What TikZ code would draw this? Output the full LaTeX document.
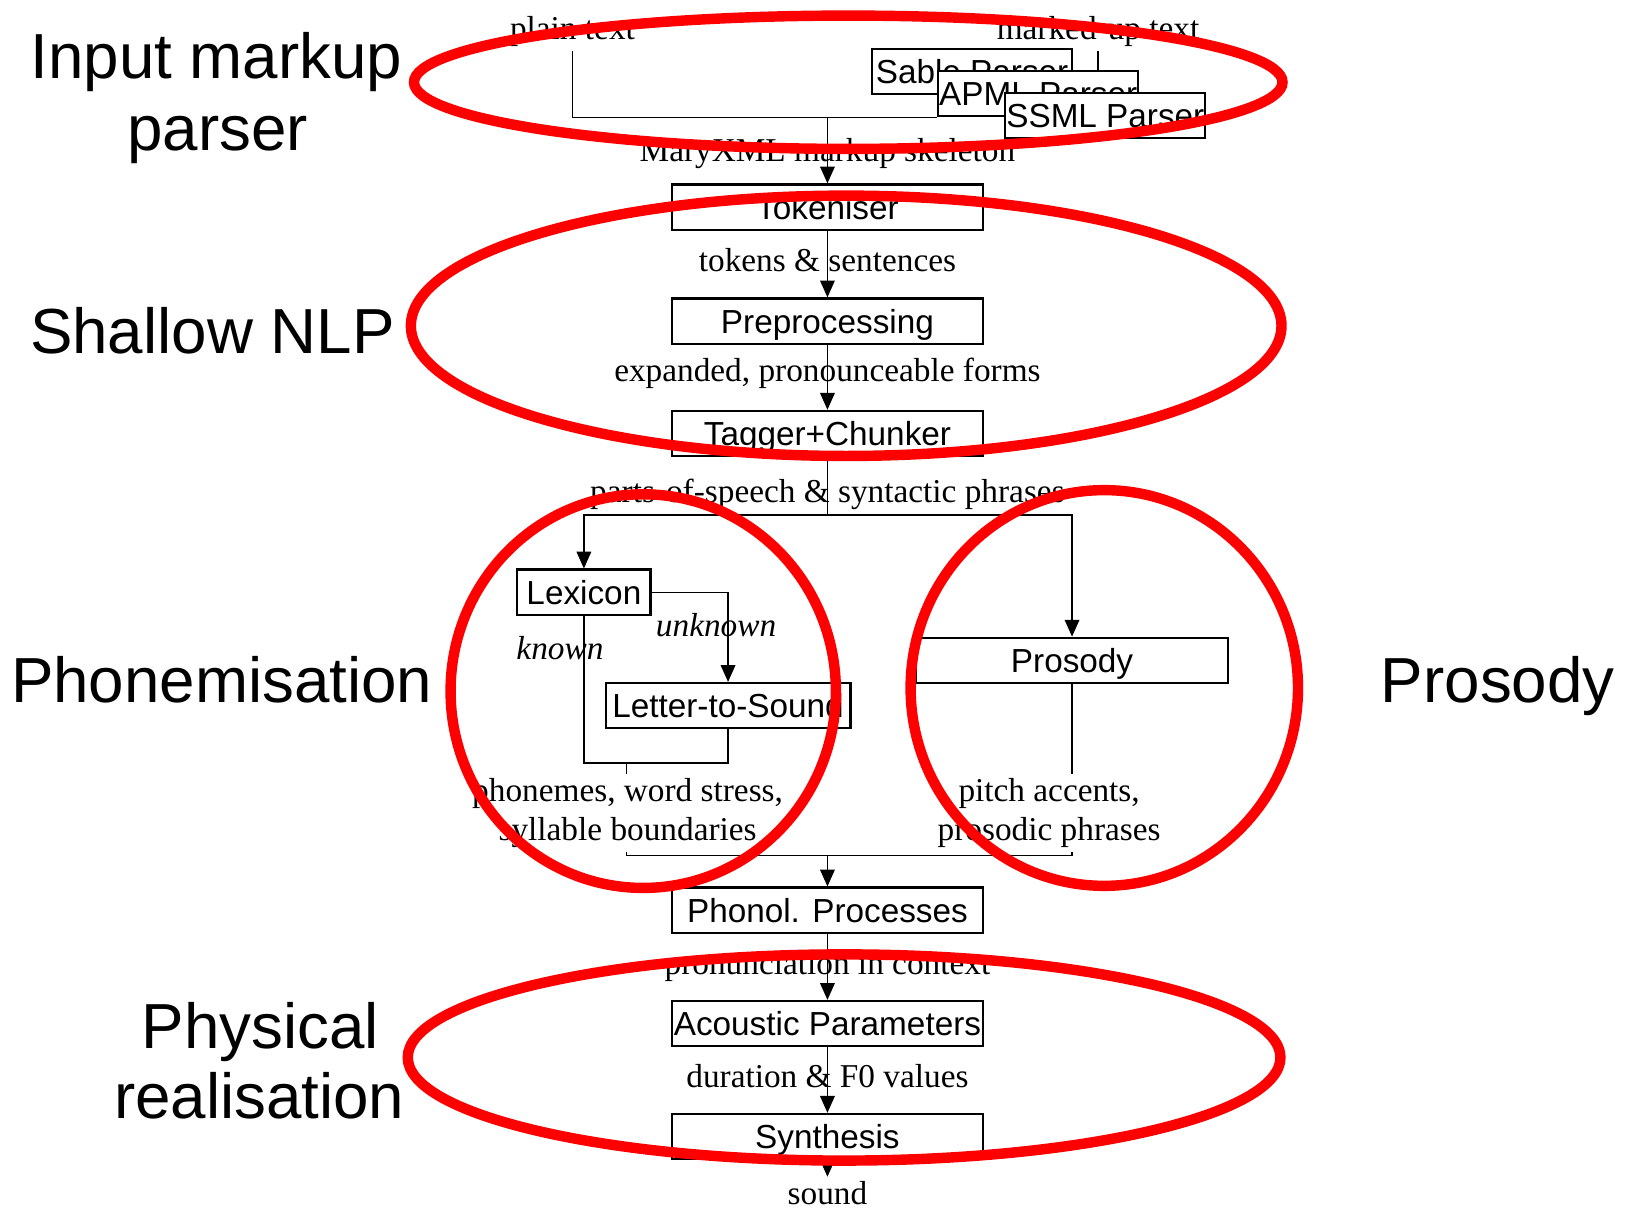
\documentclass[tikz,border=0pt]{standalone}
\usepackage{fontspec}
\setmainfont{Liberation Serif}
\setsansfont{Liberation Sans}
\usetikzlibrary{arrows.meta}
\newcommand\boxfont{\sffamily\fontsize{9.1}{11}\selectfont}
\newcommand\labfont{\rmfamily\fontsize{9.1}{10.5}\selectfont}
\newcommand\bigfont{\sffamily\fontsize{17.4}{20}\selectfont}
\tikzset{
  proc/.style={draw, fill=white, line width=0.6pt, inner sep=0pt, minimum width=2.98cm, minimum height=0.435cm,
    text height=0.23cm, text depth=0pt, font=\boxfont},
  parser/.style={proc, minimum width=1.92cm},
  lab/.style={inner sep=1pt, font=\labfont, align=center},
  big/.style={inner sep=0pt, font=\bigfont, anchor=base},
  ring/.style={draw=red, line width=0.1cm},
}
\begin{document}
\begin{tikzpicture}[x=0.01cm, y=-0.01cm, >={Triangle[length=4.6pt,width=4pt]}, line width=0.4pt]
  \useasboundingbox (0,0) rectangle (1568,1160);
  \node[lab, anchor=base] (plain) at (550,38) {plain text};
  \node[lab, anchor=base] (mkd) at (1055,38) {marked-up text};
  \node[parser] (sable) at (934,68.5) {Sable Parser};
  \node[parser] (apml) at (997.5,90) {APML Parser};
  \node[parser] (ssml) at (1062,111) {SSML Parser};
  \draw (plain) |- (apml.south west);
  \draw (mkd) -- (mkd |- apml.north);
  \coordinate (mx) at (795,112);
  \node[lab, anchor=base] (skel) at (795,155) {MaryXML markup skeleton};
  \foreach \nm/\yy/\txt in {tok/199/Tokeniser, pre/308.5/Preprocessing, tag/416.5/Tagger+Chunker,
      php/874.5/Phonol. Processes, acp/983.5/Acoustic Parameters, syn/1092/Synthesis}
    \node[proc] (\nm) at (795,\yy) {\txt};
  \node[lab, anchor=base] (tks) at (795,261) {tokens \& sentences};
  \node[lab, anchor=base] (exp) at (795,367) {expanded, pronounceable forms};
  \node[lab, anchor=base] (pos) at (795,483) {parts-of-speech \& syntactic phrases};
  \node[lab, anchor=base] (pic) at (795,936) {pronunciation in context};
  \node[lab, anchor=base] (dur) at (795,1045) {duration \& F0 values};
  \node[lab, anchor=base] (snd) at (795,1157) {sound};
  \draw[->] (mx) -- (tok);
  \draw[->] (tok) -- (pre);
  \draw[->] (pre) -- (tag);
  \draw[->] (php) -- (acp);
  \draw[->] (acp) -- (syn);
  \draw[->] (syn) -- (snd);
  \node[proc, minimum width=1.28cm] (lex) at (561,569) {Lexicon};
  \node[proc, minimum width=2.35cm] (lts) at (699.5,678) {Letter-to-Sound};
  \node[proc, minimum width=3cm] (pros) at (1030,634.5) {Prosody};
  \coordinate (sp) at (795,495);
  \draw (tag) -- (sp);
  \draw[->] (sp) -| (lex);
  \draw[->] (sp) -| (pros);
  \draw[->] (lex) -| (lts);
  \node[lab, anchor=base, font=\labfont\itshape] (unk) at (688,612) {unknown};
  \node[lab, anchor=base, font=\labfont\itshape] (knw) at (538,634) {known};
  \coordinate (pj) at (602,733);
  \draw (lex) |- (pj -| lts.south) -- (lts);
  \node[lab] (phn) at (603,781) {phonemes, word stress,\\ syllable boundaries};
  \node[lab] (acc) at (1008,781) {pitch accents,\\ prosodic phrases};
  \draw (pj) -- (pj |- phn.north);
  \draw (pros) -- (pros |- acc.north);
  \coordinate (mj) at (795,822);
  \draw (pj |- phn.south) |- (pros |- mj) -- (pros |- acc.south);
  \draw[->] (mj) -- (php);
  \node[big] (in1) at (208,75) {Input markup};
  \node[big] (in2) at (209,145) {parser};
  \node[big] (nlp) at (204,340) {Shallow NLP};
  \node[big] (phm) at (213,675) {Phonemisation};
  \node[big] (psd) at (1439,675) {Prosody};
  \node[big] (ph1) at (250,1007) {Physical};
  \node[big] (ph2) at (249,1075) {realisation};
  \draw[ring] (815,79) ellipse [x radius=4.17cm, y radius=0.64cm];
  \draw[ring] (813,313) ellipse [x radius=4.18cm, y radius=1.25cm];
  \draw[ring] (618,664) ellipse [x radius=1.85cm, y radius=1.89cm];
  \draw[ring] (1061,661) ellipse [x radius=1.86cm, y radius=1.90cm];
  \draw[ring] (811,1016) ellipse [x radius=4.19cm, y radius=0.99cm];
\end{tikzpicture}
\end{document}
